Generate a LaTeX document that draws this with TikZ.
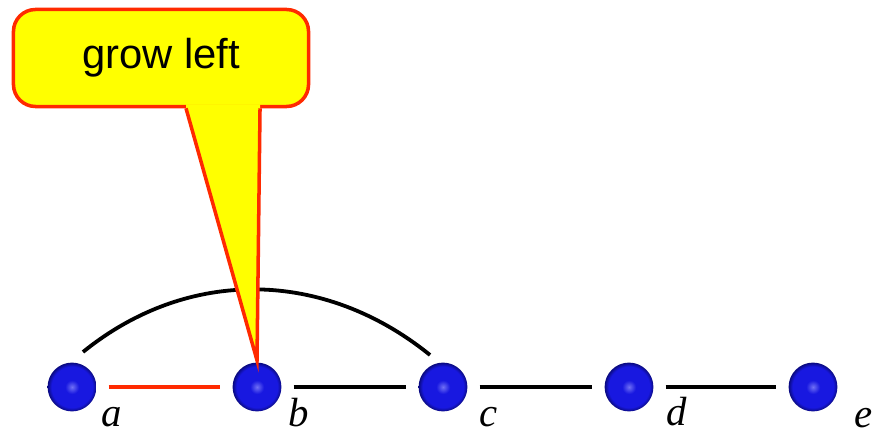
\documentclass[tikz,border=0pt]{standalone}
\usepackage{fontspec}
\newfontfamily\bubblefont{Liberation Sans}
\newfontfamily\letterfont{Liberation Serif}
\definecolor{BubbleRed}{HTML}{FF2A00}
\definecolor{BubbleYellow}{HTML}{FFFF00}
\definecolor{BallHi}{HTML}{7070F5}
\definecolor{BallMid}{HTML}{1818E0}
\definecolor{BallEdge}{HTML}{0A0A80}
\usetikzlibrary{positioning}
\pgfdeclareradialshading{blueball}{\pgfpoint{0bp}{0bp}}{color(0bp)=(BallHi); color(7bp)=(BallMid); color(21bp)=(BallMid); color(25bp)=(BallEdge); color(50bp)=(BallEdge)}
\tikzset{
  ball/.style={circle, minimum size=1.22cm, inner sep=0pt, shading=blueball},
  link/.style={line width=3pt, black, shorten <=0.3cm, shorten >=0.3cm},
  redlink/.style={link, BubbleRed, line width=2.4pt},
  arcline/.style={line width=2.7pt, black},
  bubble/.style={draw=BubbleRed, fill=BubbleYellow, line width=2.5pt, rounded corners=0.55cm, minimum width=7.375cm, minimum height=2.425cm, font=\bubblefont\fontsize{29.7}{32}\selectfont},
  lbl/.style={anchor=base, inner sep=0pt, font=\letterfont\itshape\fontsize{29}{30}\selectfont}
}

\begin{document}
\begin{tikzpicture}[x=0.025cm, y=0.025cm]
    \useasboundingbox (0,0) rectangle (874,434);

    % the five vertices
    \node[ball] (a) at (72,47) {};
    \node[ball] (b) at (257,47) {};
    \node[ball] (c) at (443,47) {};
    \node[ball] (d) at (629,47) {};
    \node[ball] (e) at (813,47) {};

    \node[lbl] (la) at (112,8) {a};
    \node[lbl] (lb) at (299,8) {b};
    \node[lbl] (lc) at (489,8) {c};
    \node[lbl] (ld) at (677,9) {d};
    \node[lbl] (le) at (864,7) {e};

    % edges
    \draw[redlink] (a) -- (b);
    \draw[link] (b) -- (c);
    \draw[link] (c) -- (d);
    \draw[link] (d) -- (e);

    \coordinate (arcL) at (83,82);
    \coordinate (arcR) at (430,79);
    \draw[arcline] (arcL) to[out=39, in=141] (arcR);

    % callout
    \node[bubble] (grow) at (161,376) {\raisebox{-0.08cm}{grow left}};
    \coordinate (pl) at ([xshift=0.625cm]grow.south);
    \coordinate (pr) at ([xshift=2.475cm]grow.south);
    \coordinate (tip) at ([yshift=0.05cm]b.north);
    \fill[BubbleYellow] ([yshift=0.1cm]pl) -- (pl) -- (tip) -- (pr) -- ([yshift=0.1cm]pr) -- cycle;
    \draw[BubbleRed, line width=2.5pt, line join=miter] (pl) -- (tip) -- (pr);
  \end{tikzpicture}
\end{document}
